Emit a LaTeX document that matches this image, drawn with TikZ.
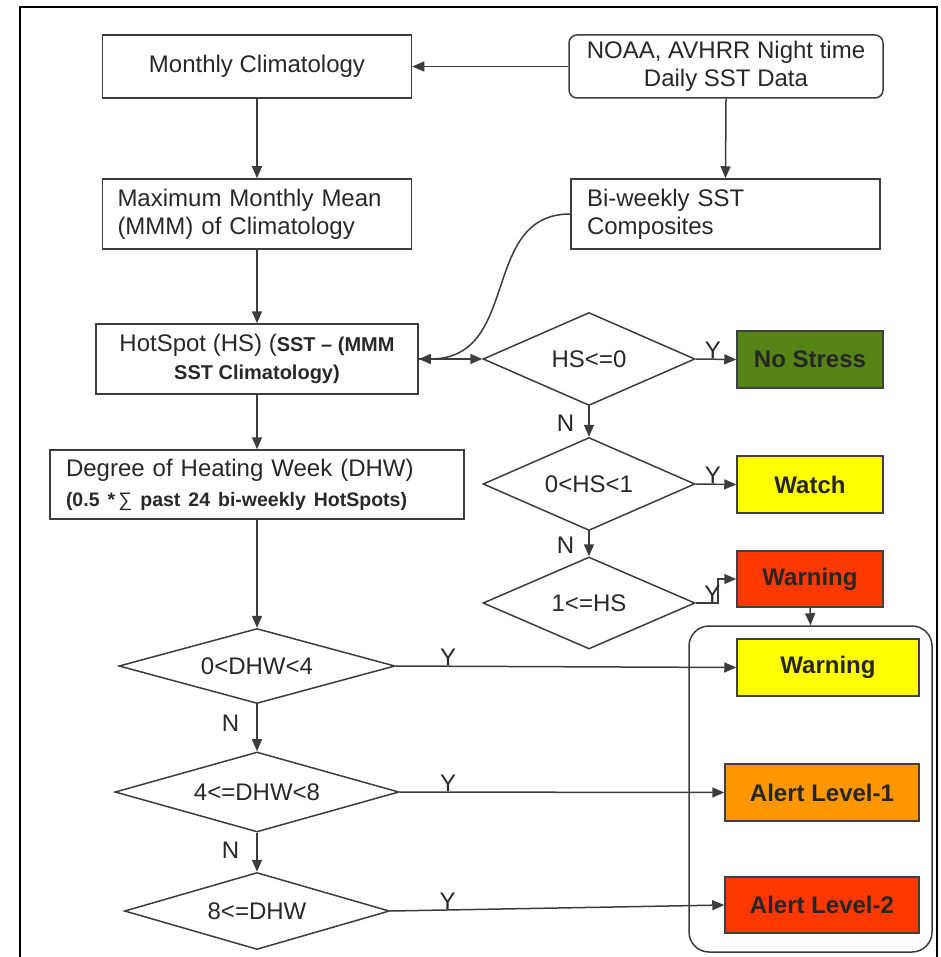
\documentclass[tikz,border=0pt]{standalone}
\usepackage{fontspec}
\setmainfont{Liberation Sans}
\usetikzlibrary{shapes.geometric,arrows.meta}
\definecolor{ln}{RGB}{60,60,60}
\definecolor{tx}{RGB}{40,40,40}
\definecolor{nsgreen}{RGB}{86,132,22}
\definecolor{wyellow}{RGB}{255,255,0}
\definecolor{wred}{RGB}{255,56,0}
\definecolor{aorange}{RGB}{255,150,0}
\tikzset{
  box/.style={draw=ln, line width=1.5pt, rectangle, inner sep=0pt, text=tx},
  rbox/.style={box, rounded corners=8pt},
  dia/.style={draw=ln, line width=1.5pt, diamond, inner sep=0pt, aspect=2, text=tx},
  cbox/.style={draw=black!75, line width=1.5pt, rectangle, inner sep=0pt, text=black!85, font=\fontsize{24}{28}\selectfont\bfseries},
  conn/.style={draw=ln, line width=1.5pt, -{Triangle[length=12pt,width=10pt]}},
  lbl/.style={inner sep=0pt, anchor=south, text=tx, font=\fontsize{24}{28}\selectfont},
  nlbl/.style={inner sep=0pt, text=tx, font=\fontsize{24}{28}\selectfont}
}
\begin{document}
\begin{tikzpicture}[x=1pt,y=-1pt,font=\fontsize{24}{28}\selectfont]
\useasboundingbox (0,0) rectangle (940,957);
% frame
\draw[black,line width=1.8pt] (20,958) -- (20,7) -- (937,7) -- (937,958);

% top boxes
\node[box, minimum width=309pt, minimum height=63pt, align=center] (mc) at (257,66.5) {Monthly Climatology};
\node[rbox, minimum width=314pt, minimum height=63pt, align=center] (noaa) at (726,66.5) {NOAA, AVHRR Night time\\Daily SST Data};
\node[box, minimum width=309pt, minimum height=70pt, text width=279pt, align=left] (mmm) at (257,214) {Maximum Monthly Mean\\(MMM) of Climatology};
\node[box, minimum width=309pt, minimum height=70pt, text width=277pt, align=left] (bw) at (725.5,214) {Bi-weekly SST\\Composites};
\node[box, minimum width=322pt, minimum height=70pt, align=center] (hs) at (257,359) {HotSpot (HS) ({\fontsize{20}{28}\selectfont\bfseries SST – (MMM}\\{\fontsize{20}{28}\selectfont\bfseries SST Climatology)}};
\node[box, minimum width=414pt, minimum height=69pt, text width=382pt, align=left, font=\fontsize{24}{30}\selectfont] (dhw) at (257,484.5) {Degree of Heating Week (DHW)\\{\fontsize{19.5}{30}\selectfont\bfseries (0.5 *\,{\mdseries ∑} past 24 bi-weekly HotSpots)}};

% HS diamonds
\node[dia, minimum width=212pt, minimum height=93pt] (h1) at (589,359) {HS<=0};
\node[dia, minimum width=212pt, minimum height=93pt] (h2) at (589,484) {0<HS<1};
\node[dia, minimum width=212pt, minimum height=92pt] (h3) at (589,603) {1<=HS};

% DHW diamonds
\node[dia, minimum width=276pt, minimum height=75pt] (d1) at (257,666) {0<DHW<4};
\node[dia, minimum width=284pt, minimum height=77pt] (d2) at (257,792) {4<=DHW<8};
\node[dia, minimum width=265pt, minimum height=77pt] (d3) at (257,911) {8<=DHW};

% container
\node[draw=ln, line width=1.5pt, rounded corners=20pt, minimum width=243pt, minimum height=326pt, inner sep=0pt] (cont) at (810.5,789) {};

% coloured boxes
\node[cbox, fill=nsgreen, minimum width=146pt, minimum height=57pt] (ns) at (810,359.5) {No Stress};
\node[cbox, fill=wyellow, minimum width=146pt, minimum height=57pt] (wa) at (810,484.5) {Watch};
\node[cbox, fill=wred, minimum width=146pt, minimum height=56pt] (wr) at (810,579) {Warning};
\node[cbox, fill=wyellow, minimum width=182pt, minimum height=57pt] (wy) at (828,667.5) {Warning};
\node[cbox, fill=aorange, minimum width=194pt, minimum height=57pt] (a1) at (822,792.5) {Alert Level-1};
\node[cbox, fill=wred, minimum width=194pt, minimum height=56pt] (a2) at (822,905) {Alert Level-2};

% connectors
\draw[conn] (noaa.west) -- (mc.east);
\draw[conn] (mc.south) -- (mmm.north);
\draw[conn] (noaa.south) -- (bw.north);
\draw[conn] (mmm.south) -- (hs.north);
\draw[conn] (bw.west) .. controls +(-91,0) and +(103,0) .. (hs.east);
\draw[conn] (hs.east) -- (h1.west);
\draw[conn] (hs.south) -- (dhw.north);
\draw[conn] (dhw.south) -- (d1.north);

\draw[conn] (h1.east) -- node[lbl, pos=0.42] {Y} (ns.west);
\draw[conn] (h2.east) -- node[lbl, pos=0.42] {Y} (wa.west);
\draw[conn] (h3.east) -- node[lbl, pos=0.75] {Y} ++(22,0) |- (wr.west);
\draw[conn] (h1.south) -- node[nlbl, left=14pt, pos=0.55] {N} (h2.north);
\draw[conn] (h2.south) -- node[nlbl, left=14pt, pos=0.55] {N} (h3.north);
\draw[conn] (wr.south) -- (cont.north);

\draw[conn] (d1.east) -- node[lbl, pos=0.154] {Y} (wy.west);
\draw[conn] (d2.east) -- node[lbl, pos=0.149] {Y} (a1.west);
\draw[conn] (d3.east) -- node[lbl, pos=0.172] {Y} (a2.west);
\draw[conn] (d1.south) -- node[nlbl, left=17pt, pos=0.4] {N} (d2.north);
\draw[conn] (d2.south) -- node[nlbl, left=17pt, pos=0.45] {N} (d3.north);
\end{tikzpicture}
\end{document}
